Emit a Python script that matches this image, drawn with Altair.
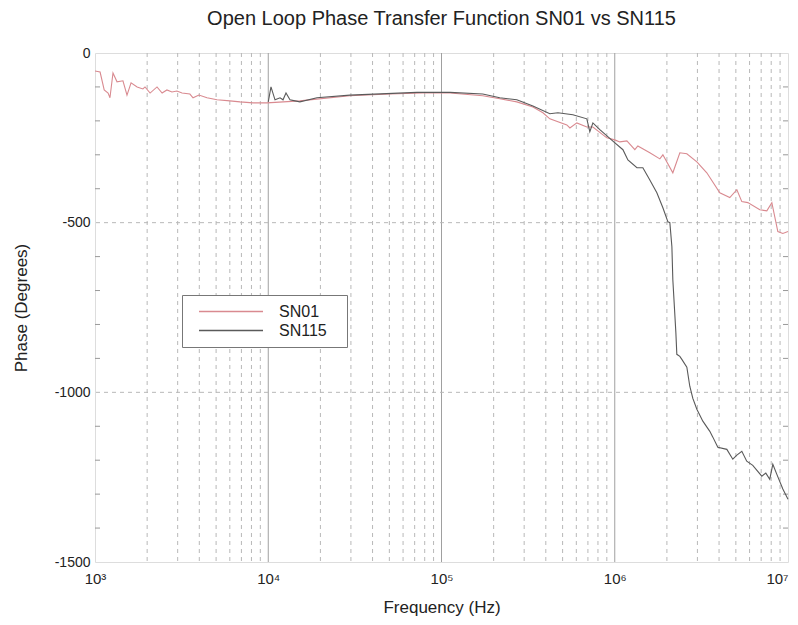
import altair as alt
import pandas as pd

# ---------------- data ----------------
sn01_freq = [1000, 1070, 1130, 1190, 1220, 1270, 1340, 1450, 1530, 1615,
             1750, 1890, 1944, 2080, 2280, 2440, 2600, 2780, 2970, 3180,
             3530, 3680, 3980, 4430, 5060, 6010, 6870, 8170, 9820, 15200,
             29600, 50300, 78100, 112000, 173000, 217000, 272000, 337000, 385000, 422000,
             529000, 551000, 604000, 690000, 748000, 900000, 1000000, 1070000, 1175000, 1306000,
             1359000, 1594000, 1821000, 1896000, 2164000, 2375000, 2607000, 2978000, 3399000, 4040000,
             4613000, 5068000, 5413000, 5861000, 6875000, 7547000, 8068000, 8736000, 9337000, 10000000]
sn01_phase = [-53, -56, -109, -118, -132, -59, -85, -82, -124, -88,
              -100, -106, -100, -118, -100, -118, -109, -115, -112, -118,
              -121, -132, -124, -132, -138, -141, -144, -147, -147, -141,
              -126, -121, -118, -118, -126, -135, -144, -159, -176, -194,
              -212, -221, -206, -218, -218, -250, -256, -262, -259, -285,
              -274, -294, -312, -300, -353, -294, -297, -321, -353, -412,
              -426, -403, -438, -441, -462, -465, -441, -526, -532, -526]

sn115_freq = [10000, 10370, 10940, 11700, 12170, 12660, 13350, 14270, 15240, 19100,
              29600, 72100, 112000, 173000, 217000, 272000, 337000, 422000, 470000, 573000,
              690000, 718000, 748000, 820000, 1002000, 1115000, 1191000, 1343000, 1453000, 1594000,
              1750000, 1896000, 2025000, 2080000, 2137000, 2164000, 2253000, 2282000, 2375000, 2439000,
              2607000, 2711000, 2823000, 2978000, 3224000, 3538000, 3683000, 3935000, 4436000, 4801000,
              5068000, 5413000, 5779000, 6262000, 7059000, 7447000, 7847000, 8173000, 8610000, 9337000,
              10000000]
sn115_phase = [-144, -100, -138, -132, -138, -118, -138, -141, -144, -132,
               -124, -116, -116, -121, -132, -138, -156, -179, -176, -182,
               -194, -232, -206, -226, -265, -285, -315, -338, -338, -374,
               -412, -456, -497, -500, -571, -668, -824, -888, -894, -903,
               -926, -982, -1018, -1050, -1085, -1115, -1132, -1162, -1168, -1197,
               -1185, -1174, -1203, -1215, -1247, -1238, -1256, -1212, -1241, -1285,
               -1315]

series_names = ["SN01", "SN115"]
series_colors = ["#d98a90", "#5a5a5a"]

x_tick_values = [1000, 10000, 100000, 1000000, 10000000]
y_tick_values = [0, -500, -1000, -1500]
major_grid = [10000, 100000, 1000000]
minor_grid = [2000, 3000, 4000, 5000, 6000, 7000, 8000, 9000,
              20000, 30000, 40000, 50000, 60000, 70000, 80000, 90000,
              200000, 300000, 400000, 500000, 600000, 700000, 800000, 900000,
              2000000, 3000000, 4000000, 5000000, 6000000, 7000000, 8000000, 9000000]
h_grid = [-500, -1000]
y_minor_ticks = [-100, -200, -300, -400, -600, -700, -800, -900,
                 -1100, -1200, -1300, -1400]

# ---------------- chart ----------------
FONT = "Liberation Sans"
W, H = 693, 509

lines_df = pd.concat([
    pd.DataFrame({"freq": sn01_freq, "phase": sn01_phase, "series": series_names[0]}),
    pd.DataFrame({"freq": sn115_freq, "phase": sn115_phase, "series": series_names[1]}),
])

xscale = alt.Scale(type="log", domain=[1000, 10000000], nice=False)
yscale = alt.Scale(domain=[-1500, 0], nice=False, zero=False)

sup_expr = ("datum.value == 1000 ? '10³' : datum.value == 10000 ? '10⁴' : "
            "datum.value == 100000 ? '10⁵' : datum.value == 1000000 ? '10⁶' : '10⁷'")

xaxis = alt.Axis(title="Frequency (Hz)", values=x_tick_values, labelExpr=sup_expr,
                 grid=False, ticks=False, domain=False, labelFont=FONT,
                 labelFontSize=15, labelColor="#222", labelPadding=9,
                 labelAlign={"condition": {"test": "datum.value >= 10000000", "value": "right"},
                             "value": "center"},
                 titleFont=FONT, titleFontSize=17, titleFontWeight="normal",
                 titleColor="#222", titlePadding=13, labelFlush=False)
yaxis = alt.Axis(title="Phase (Degrees)", values=y_tick_values,
                 labelExpr="'' + datum.value", grid=False, ticks=False,
                 domain=False, labelFont=FONT, labelFontSize=14,
                 labelColor="#222", labelPadding=5, titleFont=FONT,
                 titleFontSize=17, titleFontWeight="normal", titleColor="#222",
                 titlePadding=24, labelFlush=False)

minor = alt.Chart(pd.DataFrame({"freq": minor_grid})).mark_rule(
    color="#b8b8b8", strokeDash=[4, 4], strokeWidth=1
).encode(x=alt.X("freq:Q", scale=xscale, axis=xaxis))

major = alt.Chart(pd.DataFrame({"freq": major_grid})).mark_rule(
    color="#a0a0a0", strokeWidth=1
).encode(x=alt.X("freq:Q", scale=xscale, axis=xaxis))

hgrid = alt.Chart(pd.DataFrame({"phase": h_grid})).mark_rule(
    color="#b8b8b8", strokeDash=[4, 4], strokeWidth=1
).encode(y=alt.Y("phase:Q", scale=yscale, axis=yaxis))

lticks = alt.Chart(pd.DataFrame({"phase": y_minor_ticks})).mark_rule(
    color="#999999", strokeWidth=1
).encode(y=alt.Y("phase:Q", scale=yscale, axis=yaxis), x=alt.value(0), x2=alt.value(5))

rticks = alt.Chart(pd.DataFrame({"phase": y_minor_ticks})).mark_rule(
    color="#999999", strokeWidth=1
).encode(y=alt.Y("phase:Q", scale=yscale, axis=yaxis), x=alt.value(W - 5), x2=alt.value(W))

lines = alt.Chart(lines_df).mark_line(strokeWidth=1.1, interpolate="linear").encode(
    x=alt.X("freq:Q", scale=xscale, axis=xaxis),
    y=alt.Y("phase:Q", scale=yscale, axis=yaxis),
    color=alt.Color("series:N",
                    scale=alt.Scale(domain=series_names, range=series_colors),
                    legend=alt.Legend(orient="none", legendX=87, legendY=242, title=" ",
                                      titleOrient="right", titleFontSize=1, titlePadding=12,
                                      symbolType="stroke", symbolSize=4096,
                                      symbolStrokeWidth=1.3, clipHeight=17,
                                      labelFont=FONT, labelFontSize=16, labelColor="#222",
                                      labelOffset=15, padding=8, symbolOffset=8,
                                      strokeColor="#777", fillColor="white")),
    order=alt.Order("freq:Q"),
)

chart = alt.layer(minor, major, hgrid, lticks, rticks, lines).properties(
    width=W, height=H,
    title=alt.Title("Open Loop Phase Transfer Function SN01 vs SN115", font=FONT,
                    fontSize=20, fontWeight="normal", color="#222", anchor="middle",
                    offset=17),
    autosize=alt.AutoSizeParams(type="none"),
    padding={"left": 87, "top": 45, "right": 2, "bottom": 55},
).configure_view(stroke="#888888", strokeWidth=1).configure(background="white")

chart.save("out.html", embed_options={"renderer": "svg", "actions": False})
